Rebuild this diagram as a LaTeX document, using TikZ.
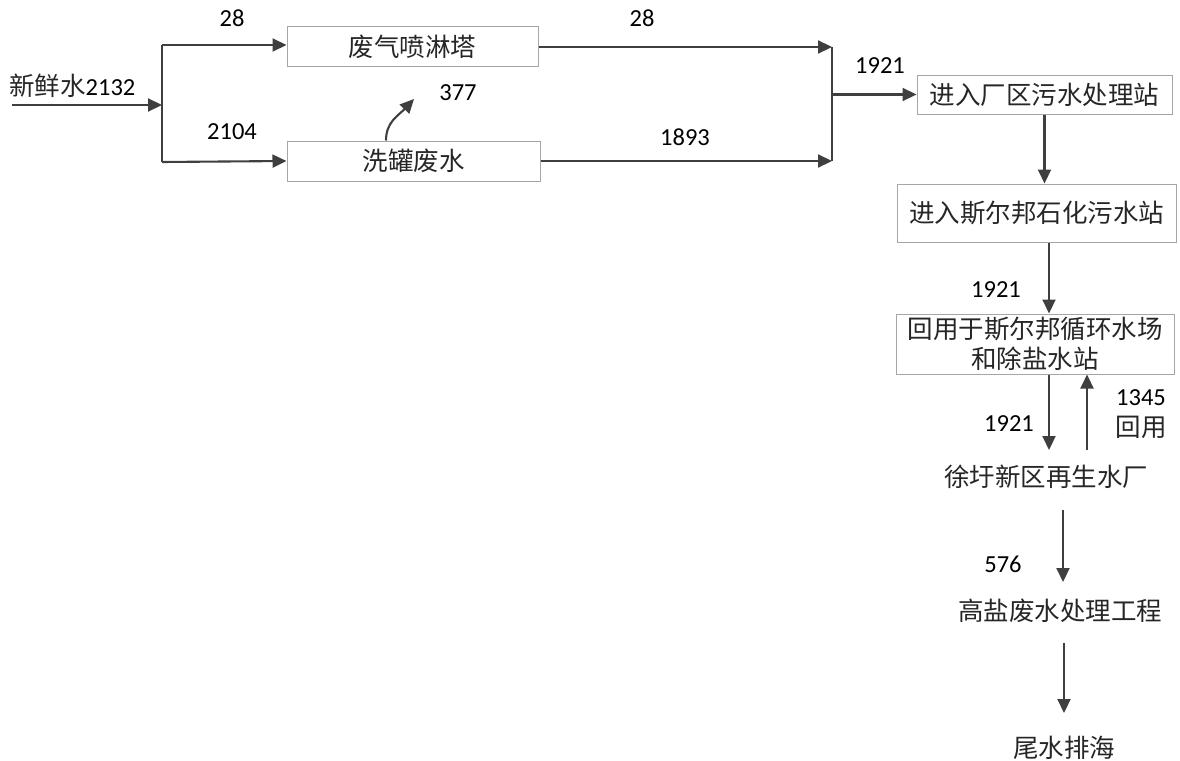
\documentclass[tikz,border=0pt]{standalone}
\usepackage{fontspec}
\setmainfont{Carlito}
\newfontfamily\cjk{Noto Sans CJK SC}
\usetikzlibrary{arrows.meta}
\definecolor{linec}{HTML}{3F3F3F}
\definecolor{boxc}{HTML}{A6A6A6}
\tikzset{
  flow/.style={draw=linec, line width=2.1pt, -{Triangle[length=14pt,width=13pt]}},
  plain/.style={draw=linec, line width=2.1pt},
  procbox/.style={draw=boxc, line width=1pt, minimum height=40pt, inner sep=0pt, font=\cjk\fontsize{25.5}{30}\selectfont, text=black!85},
  cjktext/.style={font=\cjk\fontsize{25.5}{30}\selectfont, text=black!85, inner sep=0pt},
  numlab/.style={font=\fontsize{24.5}{28}\selectfont, text=black, inner sep=0pt}
}
\begin{document}
\begin{tikzpicture}[x=1pt,y=-1pt]
\useasboundingbox (0,0) rectangle (1180,760);
% nodes
\node[procbox, minimum width=251pt] (b1) at (412.5,47) {废气喷淋塔};
\node[procbox, minimum width=253pt] (b2) at (413.5,161) {洗罐废水};
\node[procbox, minimum width=255pt, minimum height=39pt] (b3) at (1044.5,94.5) {进入厂区污水处理站};
\node[procbox, minimum width=279pt, minimum height=58pt] (b4) at (1036.5,213) {进入斯尔邦石化污水站};
\node[procbox, minimum width=278pt, minimum height=60pt, align=center] (b5) at (1035,344) {回用于斯尔邦循环水场\\和除盐水站};
\node[cjktext] (t6) at (1046,477) {徐圩新区再生水厂};
\node[cjktext] (t7) at (1060,611) {高盐废水处理工程};
\node[cjktext] (t8) at (1064,748) {尾水排海};
\node[anchor=west, inner sep=0pt] (fw) at (9,86) {\cjk\fontsize{25.5}{30}\selectfont\color{black!85}新鲜水\normalfont\fontsize{24.5}{28}\selectfont\color{black}2132};
% coordinates
\coordinate (s0) at (12,105);
\coordinate (sp) at (162,105);
\coordinate (spt) at (162,45);
\coordinate (spb) at (162,162);
\coordinate (mt) at (832,47);
\coordinate (mb) at (832,161);
\coordinate (mm) at (832,94.5);
\coordinate (e377) at (414,99);
% connectors
\draw[flow] (s0) -- (sp);
\draw[plain] (spt) -- (spb);
\draw[flow] (spt) -- (b1.west |- spt);
\draw[flow] (spb) -- (b2.west);
\draw[flow] (b2.north -| 386,0) .. controls (386,122) and (398,116) .. (e377);
\draw[flow] (b1.east) -- (mt);
\draw[flow] (b2.east) -- (mb);
\draw[plain] (mt) -- (mb);
\draw[flow] (mm) -- (b3.west);
\draw[flow] (b3.south) -- (b4.north -| b3.south);
\draw[flow] (b4.south -| 1049,0) -- (b5.north -| 1049,0);
\draw[flow] (b5.south -| 1049,0) -- (1049,450);
\draw[flow] (1087,450) -- (b5.south -| 1087,0);
\draw[flow] (1063,510) -- (1063,582);
\draw[flow] (1064,643) -- (1064,713);
% labels
\node[numlab] (l28a) at (232,18) {28};
\node[numlab] (l2104) at (232,132) {2104};
\node[numlab] (l377) at (458,93) {377};
\node[numlab] (l28b) at (642,18) {28};
\node[numlab] (l1893) at (685,137) {1893};
\node[numlab] (l1921a) at (880,66) {1921};
\node[numlab] (l1921b) at (996,290) {1921};
\node[numlab] (l1921c) at (1009,424) {1921};
\node[numlab] (l1345) at (1141,398) {1345};
\node[cjktext] (lhy) at (1141,427) {回用};
\node[numlab] (l576) at (1003,564) {576};
\end{tikzpicture}
\end{document}
